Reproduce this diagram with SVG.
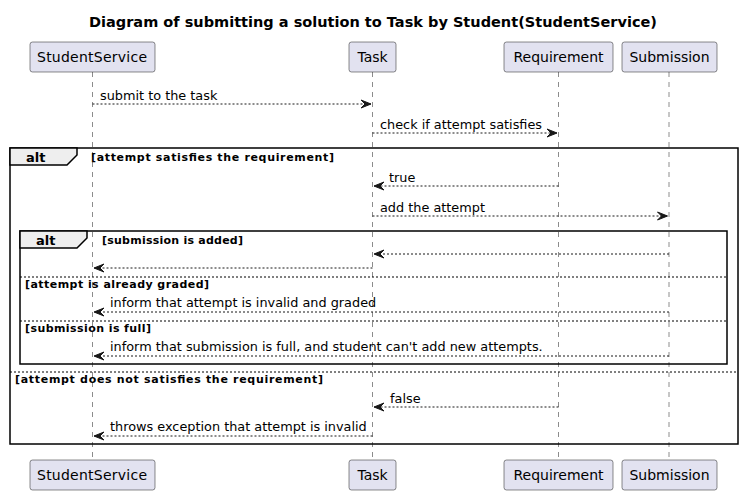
<svg xmlns="http://www.w3.org/2000/svg" width="743" height="495" viewBox="0 0 743 495">
<defs>
<style>
text{font-family:"DejaVu Sans","Noto Sans",sans-serif;fill:#000}
.title{font-size:14px;font-weight:bold}
.pname{font-size:14px}
.msg{font-size:12.85px}
.g{font-size:11px;font-weight:bold}
.alt{font-size:13px;font-weight:bold}
.part{fill:#E2E2F0;stroke:#181818;stroke-width:0.5}
.life{stroke:#181818;stroke-width:0.5;stroke-dasharray:5,5;fill:none}
.m{stroke:#181818;stroke-width:1;stroke-dasharray:2,2;fill:none}
.frame{fill:none;stroke:#000;stroke-width:1.5}
.tab{fill:#EEEEEE;stroke:#000;stroke-width:1.5}
.sep{stroke:#000;stroke-width:1;stroke-dasharray:2,2;fill:none}
</style>
<marker id="ar" viewBox="-1 -1 12 10" refX="10" refY="4" markerWidth="12" markerHeight="10" markerUnits="userSpaceOnUse" orient="auto">
<polygon points="0,0 10,4 0,8 4,4" fill="#181818" stroke="#181818" stroke-width="1" stroke-linejoin="miter"/>
</marker>
</defs>
<rect width="743" height="495" fill="#FFFFFF"/>
<text class="title" x="89" y="27" textLength="568" lengthAdjust="spacingAndGlyphs">Diagram of submitting a solution to Task by Student(StudentService)</text>

<g id="lifelines">
<line class="life" x1="92.5" y1="72" x2="92.5" y2="460"/>
<line class="life" x1="372.5" y1="72" x2="372.5" y2="460"/>
<line class="life" x1="558.5" y1="72" x2="558.5" y2="460"/>
<line class="life" x1="669" y1="72" x2="669" y2="460"/>
</g>

<g id="StudentService">
<rect class="part" x="30" y="42" width="125" height="30" rx="2.5"/>
<text class="pname" x="37" y="62" textLength="110">StudentService</text>
<rect class="part" x="30" y="460" width="125" height="30" rx="2.5"/>
<text class="pname" x="37" y="480" textLength="110">StudentService</text>
</g>
<g id="Task">
<rect class="part" x="349" y="42" width="47" height="30" rx="2.5"/>
<text class="pname" x="372.5" y="62" text-anchor="middle">Task</text>
<rect class="part" x="349" y="460" width="47" height="30" rx="2.5"/>
<text class="pname" x="372.5" y="480" text-anchor="middle">Task</text>
</g>
<g id="Requirement">
<rect class="part" x="504" y="42" width="109" height="30" rx="2.5"/>
<text class="pname" x="558.5" y="62" text-anchor="middle">Requirement</text>
<rect class="part" x="504" y="460" width="109" height="30" rx="2.5"/>
<text class="pname" x="558.5" y="480" text-anchor="middle">Requirement</text>
</g>
<g id="Submission">
<rect class="part" x="622" y="42" width="95" height="30" rx="2.5"/>
<text class="pname" x="669.5" y="62" text-anchor="middle">Submission</text>
<rect class="part" x="622" y="460" width="95" height="30" rx="2.5"/>
<text class="pname" x="669.5" y="480" text-anchor="middle">Submission</text>
</g>

<g id="frames">
<rect class="frame" x="10" y="148" width="728" height="296"/>
<polygon class="tab" points="10,148 77,148 77,155 67,165 10,165"/>
<text class="alt" x="26" y="161.5">alt</text>
<text class="g" x="91" y="161" textLength="243" lengthAdjust="spacing">[attempt satisfies the requirement]</text>
<line class="sep" x1="10" y1="372" x2="738" y2="372"/>
<text class="g" x="15" y="383" textLength="308" lengthAdjust="spacing">[attempt does not satisfies the requirement]</text>

<rect class="frame" x="20" y="231" width="707" height="133"/>
<polygon class="tab" points="20,231 87,231 87,238 77,248 20,248"/>
<text class="alt" x="36" y="244.5">alt</text>
<text class="g" x="102" y="244" textLength="141" lengthAdjust="spacing">[submission is added]</text>
<line class="sep" x1="20" y1="277" x2="727" y2="277"/>
<text class="g" x="25" y="288" textLength="184" lengthAdjust="spacing">[attempt is already graded]</text>
<line class="sep" x1="20" y1="321" x2="727" y2="321"/>
<text class="g" x="25" y="332" textLength="126" lengthAdjust="spacing">[submission is full]</text>
</g>

<g id="connectors">
<line class="m" x1="92.5" y1="104" x2="371" y2="104" marker-end="url(#ar)"/>
<text class="msg" x="100" y="100">submit to the task</text>
<line class="m" x1="372.5" y1="133" x2="557" y2="133" marker-end="url(#ar)"/>
<text class="msg" x="380" y="129">check if attempt satisfies</text>
<line class="m" x1="558.5" y1="186" x2="374" y2="186" marker-end="url(#ar)"/>
<text class="msg" x="389" y="182">true</text>
<line class="m" x1="372.5" y1="216" x2="667.5" y2="216" marker-end="url(#ar)"/>
<text class="msg" x="380" y="212">add the attempt</text>
<line class="m" x1="669" y1="254" x2="374" y2="254" marker-end="url(#ar)"/>
<line class="m" x1="372.5" y1="268" x2="94" y2="268" marker-end="url(#ar)"/>
<line class="m" x1="669" y1="312" x2="94" y2="312" marker-end="url(#ar)"/>
<text class="msg" x="110" y="307">inform that attempt is invalid and graded</text>
<line class="m" x1="669" y1="356" x2="94" y2="356" marker-end="url(#ar)"/>
<text class="msg" x="110" y="351">inform that submission is full, and student can't add new attempts.</text>
<line class="m" x1="558.5" y1="407" x2="374" y2="407" marker-end="url(#ar)"/>
<text class="msg" x="390" y="403">false</text>
<line class="m" x1="372.5" y1="436" x2="94" y2="436" marker-end="url(#ar)"/>
<text class="msg" x="110" y="431">throws exception that attempt is invalid</text>
</g>
</svg>
